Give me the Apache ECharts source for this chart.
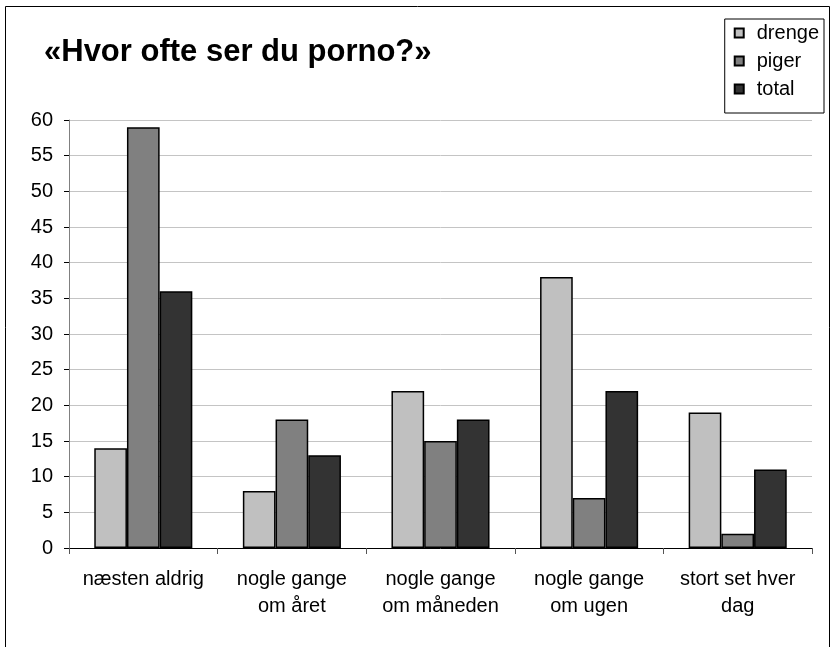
<!DOCTYPE html>
<html>
<head>
<meta charset="utf-8">
<script src="https://cdn.jsdelivr.net/npm/echarts@6/dist/echarts.min.js"></script>
<style>
    html, body {
        margin: 0;
        padding: 0;
        background: #ffffff;
    }
    #porno {
        width: 832px;
        height: 647px;
    }
</style>
</head>
<body>
<div id="porno"></div>
<script>
    // kategorier og værdier (procent)
    var categories = ['næsten aldrig', 'nogle gange\nom året', 'nogle gange\nom måneden', 'nogle gange\nom ugen', 'stort set hver\ndag'];
    var drenge = [14, 8, 22, 38, 19];
    var piger = [59, 18, 15, 7, 2];
    var total = [36, 13, 18, 22, 11];
    var yTicks = {min: 0, max: 60, interval: 5};

    var chartDom = document.getElementById('porno');
    var myChart = echarts.init(chartDom);
    var option;

    var font = '"Liberation Sans", Arial, sans-serif';

    function barSerie(name, data, color) {
        return {
            name: name,
            type: 'bar',
            data: data,
            barGap: '0%',
            barCategoryGap: '34%',
            itemStyle: {
                color: color,
                borderColor: '#000000',
                borderWidth: 1.5
            }
        };
    }

    option = {
        animation: false,
        backgroundColor: '#ffffff',
        textStyle: {
            fontFamily: font
        },
        title: {
            text: '«Hvor ofte ser du porno?»',
            left: 44,
            top: 37,
            padding: 0,
            textStyle: {
                fontFamily: font,
                fontSize: 31,
                fontWeight: 'bold',
                color: '#000000'
            }
        },
        legend: {
            orient: 'vertical',
            right: 8,
            top: 19,
            icon: 'rect',
            itemWidth: 9,
            itemHeight: 9,
            itemGap: 8,
            padding: [4, 5, 14, 9],
            backgroundColor: '#ffffff',
            borderColor: '#000000',
            borderWidth: 1,
            borderRadius: 0,
            textStyle: {
                fontFamily: font,
                fontSize: 20,
                color: '#000000',
                padding: [0, 0, 0, 8]
            },
            data: ['drenge', 'piger', 'total']
        },
        graphic: [{
            type: 'rect',
            silent: true,
            z: -1,
            shape: {x: 5.5, y: 6.5, width: 824, height: 700},
            style: {fill: 'none', stroke: '#000000', lineWidth: 1}
        }],
        grid: {
            left: 69,
            right: 20,
            top: 120,
            bottom: 99
        },
        xAxis: {
            type: 'category',
            data: categories,
            axisLine: {
                lineStyle: {color: '#000000', width: 1}
            },
            axisTick: {
                show: true,
                length: 6,
                interval: 0,
                lineStyle: {color: '#555555'}
            },
            axisLabel: {
                interval: 0,
                margin: 18,
                fontFamily: font,
                fontSize: 20,
                lineHeight: 27,
                color: '#000000'
            }
        },
        yAxis: {
            type: 'value',
            min: yTicks.min,
            max: yTicks.max,
            interval: yTicks.interval,
            axisLine: {
                show: true,
                lineStyle: {color: '#808080', width: 1}
            },
            axisTick: {
                show: true,
                length: 5,
                lineStyle: {color: '#000000'}
            },
            splitLine: {
                lineStyle: {color: '#c4c4c4', width: 1}
            },
            axisLabel: {
                margin: 16,
                fontFamily: font,
                fontSize: 20,
                color: '#000000'
            }
        },
        series: [
            barSerie('drenge', drenge, '#c0c0c0'),
            barSerie('piger', piger, '#808080'),
            barSerie('total', total, '#333333')
        ]
    };

    option && myChart.setOption(option);
</script>
</body>
</html>
